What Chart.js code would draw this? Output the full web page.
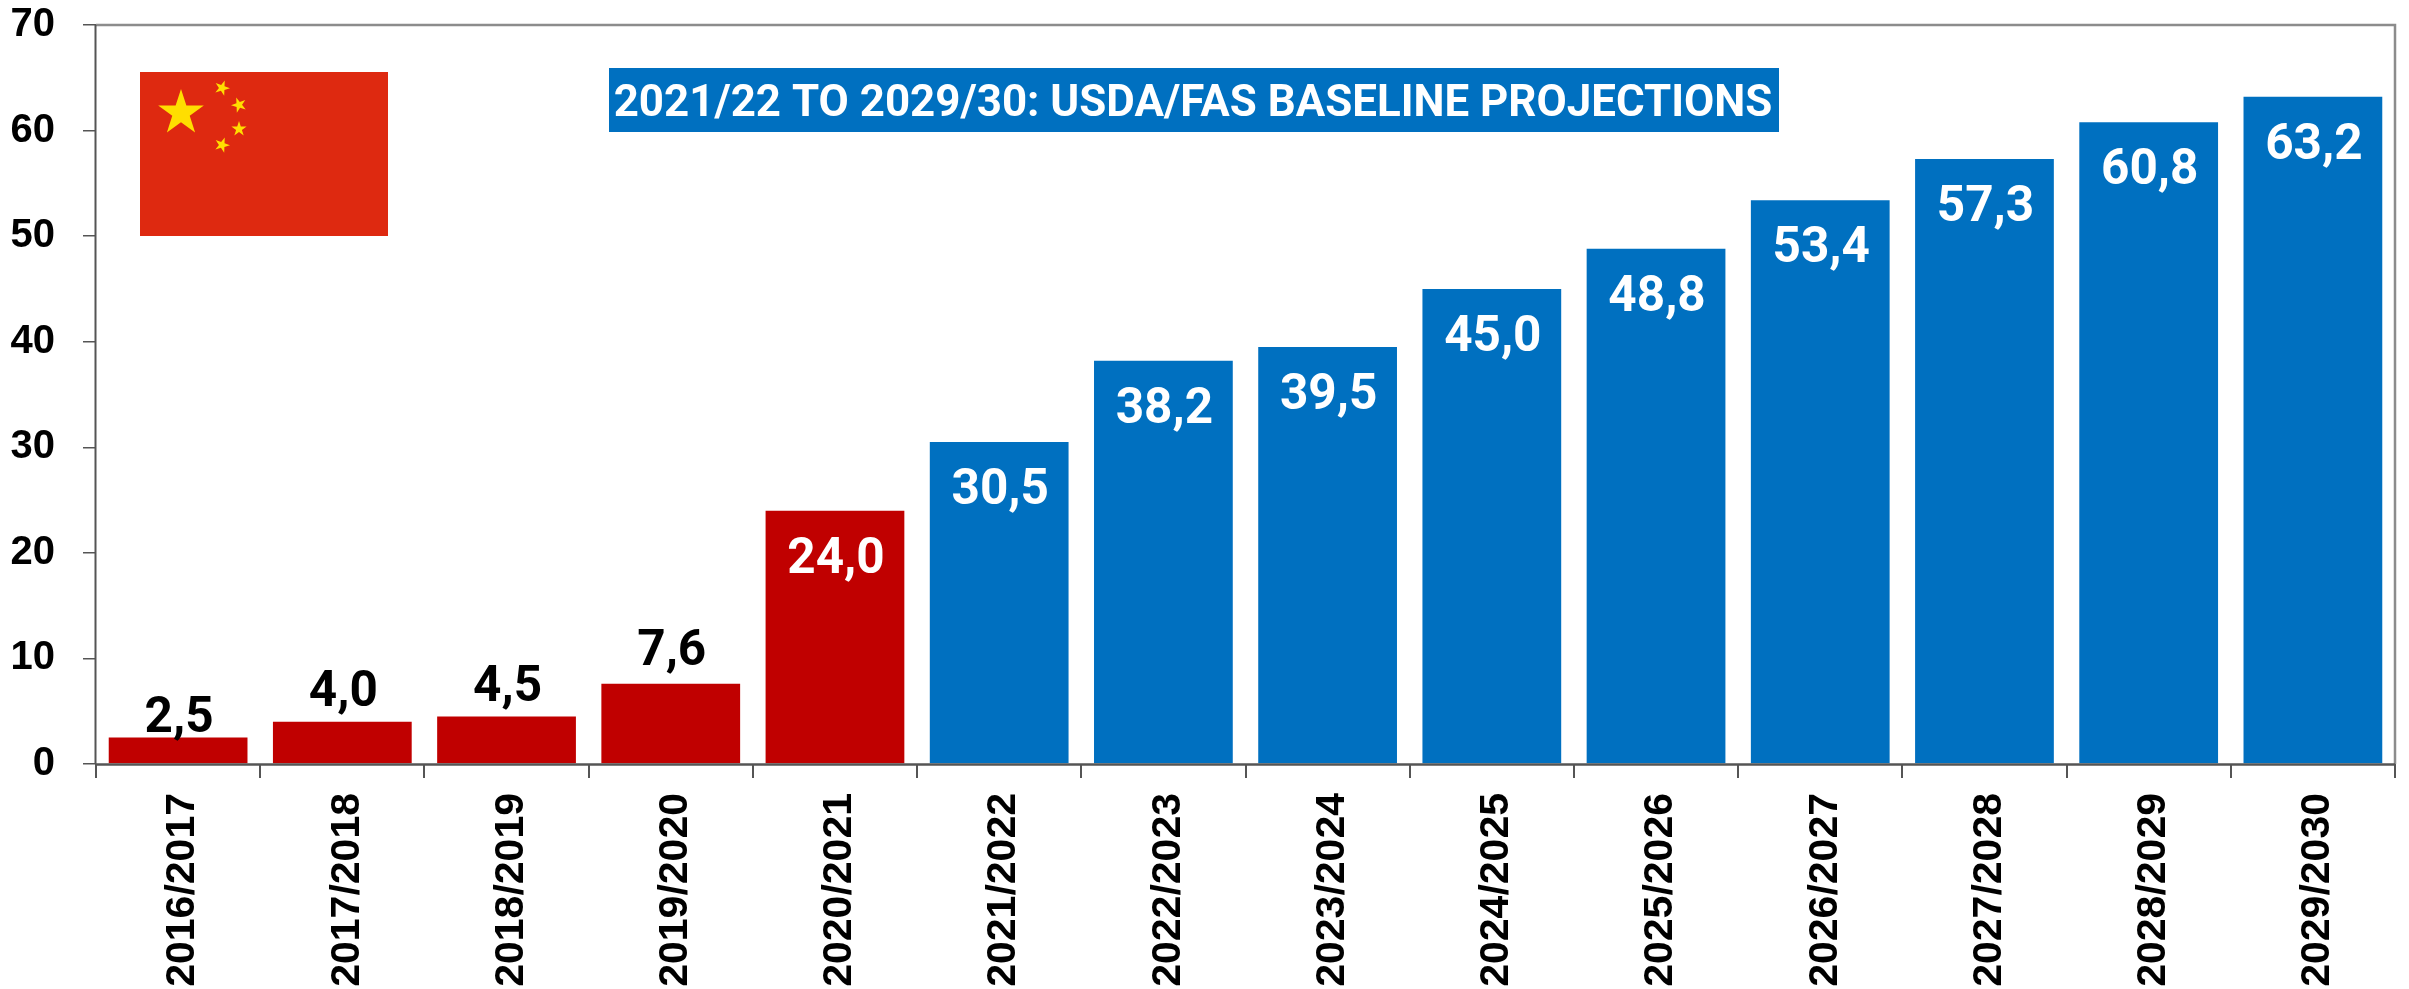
<!DOCTYPE html>
<html><head><meta charset="utf-8">
<style>html,body{margin:0;padding:0;background:#fff}#w{width:2409px;height:989px;position:relative}</style>
<script src="https://cdn.jsdelivr.net/npm/chart.js@4/dist/chart.umd.min.js"></script>
</head><body><div id="w"><canvas id="c" width="2409" height="989"></canvas></div>
<script>
const categories = ["2016/2017","2017/2018","2018/2019","2019/2020","2020/2021","2021/2022","2022/2023","2023/2024","2024/2025","2025/2026","2026/2027","2027/2028","2028/2029","2029/2030"];
const values = [2.5,4.0,4.5,7.6,24.0,30.5,38.2,39.5,45.0,48.8,53.4,57.3,60.8,63.2];
const valueLabels = ["2,5","4,0","4,5","7,6","24,0","30,5","38,2","39,5","45,0","48,8","53,4","57,3","60,8","63,2"];
const historicalCount = 5;
const titleText = "2021/22 TO 2029/30: USDA/FAS BASELINE PROJECTIONS";
const RED='#C00000', BLUE='#0070C0';

function star(ctx,cx,cy,r,rot){
  ctx.beginPath();
  for(let i=0;i<10;i++){
    const a=rot-Math.PI/2+i*Math.PI/5, q=i%2?r*0.382:r;
    ctx.lineTo(cx+q*Math.cos(a),cy+q*Math.sin(a));
  }
  ctx.closePath();ctx.fill();
}
const decor={id:'decor',
  afterDraw(chart){
    const c=chart.ctx,a=chart.chartArea;
    c.save();
    // frame
    c.strokeStyle='#8c8c8c';c.lineWidth=2.5;
    c.beginPath();c.moveTo(a.left,a.top);c.lineTo(a.right,a.top);c.lineTo(a.right,a.bottom);c.stroke();
    c.strokeStyle='#555';c.lineWidth=2;
    c.beginPath();c.moveTo(a.left-.5,a.top);c.lineTo(a.left-.5,a.bottom);c.stroke();
    c.strokeStyle='#555';c.lineWidth=2.5;
    c.beginPath();c.moveTo(a.left,a.bottom+.5);c.lineTo(a.right,a.bottom+.5);c.stroke();
    // flag
    c.fillStyle='#DE2910';c.fillRect(140,72,248,164);
    c.fillStyle='#FFDE00';
    star(c,181,113,24,0);
    star(c,222,88,8,0.35);
    star(c,239,105,8,0.9);
    star(c,239,129,8,0);
    star(c,222,145,8,0.35);
    // title
    c.fillStyle=BLUE;c.fillRect(609,68,1170,64);
    c.fillStyle='#fff';c.font='700 43.9px Roboto';c.textAlign='center';c.textBaseline='middle';
    c.fillText(titleText,1193,105);
    // value labels
    c.font='700 49.5px Roboto';c.textBaseline='alphabetic';
    const m=chart.getDatasetMeta(0);
    const lift=[6,16,15,19];
    m.data.forEach((b,i)=>{
      if(i<4){c.fillStyle='#000';c.fillText(valueLabels[i],b.x+1,b.y-lift[i]);}
      else{c.fillStyle='#fff';c.fillText(valueLabels[i],b.x+1,b.y+62);}
    });
    c.restore();
  }};
new Chart(document.getElementById('c'),{
  type:'bar',
  data:{labels:categories,datasets:[{data:values,
    backgroundColor:ctx=>ctx.dataIndex<historicalCount?RED:BLUE,
    barPercentage:0.845,categoryPercentage:1}]},
  plugins:[decor],
  options:{responsive:false,animation:false,
    layout:{padding:{top:25,right:14,left:0,bottom:0}},
    plugins:{legend:{display:false},tooltip:{enabled:false}},
    scales:{
      x:{grid:{drawOnChartArea:false,offset:true,tickLength:14,color:'#555',lineWidth:2},border:{display:false},
        ticks:{minRotation:90,maxRotation:90,padding:15,labelOffset:5,color:'#000',font:{family:'Liberation Sans',weight:'700',size:41},autoSkip:false},
        afterFit(s){s.height=225;s.paddingLeft=0;s.paddingRight=0;}},
      y:{min:0,max:70,grid:{drawOnChartArea:false,tickLength:13,color:'#555',lineWidth:1.5},border:{display:false},
        ticks:{stepSize:10,padding:28,color:'#000',font:{family:'Liberation Sans',weight:'700',size:40}},
        afterFit(s){s.width=96;s.paddingTop=0;s.paddingBottom=0;}}
    }}
});
</script></body></html>
